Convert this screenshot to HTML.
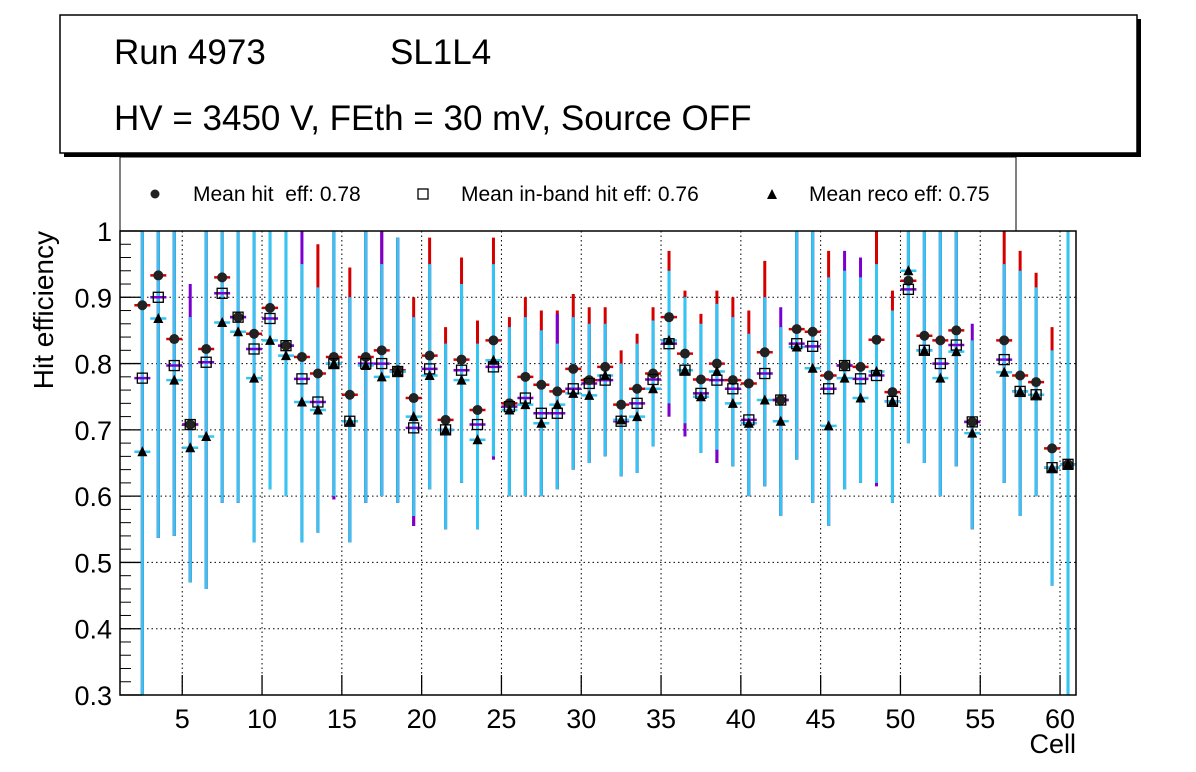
<!DOCTYPE html>
<html><head><meta charset="utf-8"><style>
body{margin:0;background:#fff;}
svg{display:block;font-family:"Liberation Sans",sans-serif;}
</style></head><body>
<svg id="chart" width="1196" height="772">
<rect x="64" y="19" width="1077" height="138" fill="#000"/>
<rect x="60" y="15" width="1077" height="138" fill="#fff" stroke="#000" stroke-width="1.5"/>
<text x="114" y="64" font-size="35">Run 4973</text>
<text x="390" y="64" font-size="35">SL1L4</text>
<text x="114" y="130" font-size="35">HV = 3450 V, FEth = 30 mV, Source OFF</text>
<rect x="120" y="157" width="896" height="74" fill="#fff" stroke="#000" stroke-width="1"/>
<g>
<circle cx="155" cy="194" r="4.5" fill="#222"/>
<text x="193" y="201" font-size="21" style="white-space:pre">Mean hit  eff: 0.78</text></g>
<g>
<rect x="418" y="189" width="10" height="10" fill="#fff" stroke="#000" stroke-width="1.3"/>
<text x="461" y="201" font-size="21">Mean in-band hit eff: 0.76</text></g>
<g>
<polygon points="772,189 767,199 777,199" fill="#000"/>
<text x="809" y="201" font-size="21">Mean reco eff: 0.75</text></g>
<g id="plot"></g>
<text x="1076" y="753" font-size="27" text-anchor="end">Cell</text>
<text transform="translate(53,231) rotate(-90)" font-size="28" text-anchor="end">Hit efficiency</text>
</svg>
<script>
const cells = [2,3,4,5,6,7,8,9,10,11,12,13,14,15,16,17,18,19,20,21,22,23,24,25,26,27,28,29,30,31,32,33,34,35,36,37,38,39,40,41,42,43,44,45,46,47,48,49,50,51,52,53,54,56,57,58,59,60];
const hitEff = [.888,.933,.837,.708,.822,.930,.870,.845,.884,.827,.810,.785,.810,.753,.810,.820,.790,.748,.812,.715,.806,.730,.835,.740,.780,.768,.758,.792,.775,.795,.738,.762,.785,.870,.815,.776,.800,.775,.770,.817,.745,.852,.848,.782,.797,.795,.836,.757,.925,.842,.835,.850,.712,.835,.782,.772,.672,.648];
const inbandEff = [.778,.900,.797,.708,.802,.906,.870,.822,.868,.827,.777,.742,.800,.713,.800,.800,.788,.703,.792,.700,.790,.708,.795,.735,.748,.725,.725,.762,.770,.775,.713,.740,.776,.830,.790,.755,.775,.762,.715,.785,.745,.830,.826,.762,.797,.777,.782,.743,.912,.820,.800,.828,.712,.806,.758,.753,.643,.648];
const recoEff = [.667,.868,.775,.673,.690,.862,.848,.778,.835,.812,.742,.730,.800,.713,.797,.780,.788,.720,.782,.700,.775,.685,.805,.730,.738,.710,.738,.755,.752,.782,.715,.720,.762,.835,.790,.750,.788,.740,.710,.745,.713,.825,.793,.706,.778,.748,.788,.743,.940,.820,.778,.818,.695,.787,.758,.753,.643,.648];
const recoLo = [.30,.537,.54,.47,.46,.59,.59,.53,.61,.60,.53,.545,.60,.53,.59,.60,.59,.57,.61,.55,.62,.55,.66,.60,.60,.60,.61,.64,.65,.66,.63,.635,.675,.74,.71,.665,.67,.645,.60,.615,.57,.655,.59,.555,.61,.62,.62,.59,.68,.65,.60,.645,.55,.62,.57,.60,.465,.30];
const recoHi = [1,1,1,.87,1,1,1,1,1,1,.95,.915,1,.90,1,.95,.99,.87,.95,.83,.92,.83,.95,.855,.87,.85,.83,.87,.86,.86,.80,.83,.865,.94,.90,.86,.89,.87,.845,.90,.855,1,1,.93,.94,.93,.95,.88,1,1,1,1,.835,.95,.94,.915,.82,1];
const hitHi = [1,1,1,.87,1,1,1,1,1,1,.95,.98,1,.945,1,1,.99,.90,.99,.855,.96,.865,.99,.87,.90,.88,.88,.905,.885,.885,.82,.845,.885,.97,.91,.875,.91,.90,.88,.955,.855,1,1,.97,.94,.93,1,.91,1,1,1,1,.835,1,.97,.937,.855,1];
const inbandHi = [1,1,1,.92,1,1,1,1,1,1,1,.915,1,.90,1,1,.99,.87,.95,.83,.92,.83,.95,.855,.87,.85,.875,.87,.86,.86,.80,.83,.865,.94,.90,.86,.89,.87,.845,.90,.885,1,1,.93,.97,.96,.95,.88,1,1,1,1,.86,.95,.94,.915,.82,1];
const inbandLo = [.30,.537,.54,.47,.46,.59,.59,.53,.61,.60,.53,.545,.595,.53,.59,.60,.59,.555,.61,.55,.62,.55,.655,.60,.60,.60,.61,.64,.65,.66,.63,.635,.675,.72,.69,.665,.65,.645,.60,.615,.57,.655,.59,.555,.61,.62,.615,.59,.68,.65,.60,.645,.55,.62,.57,.60,.465,.30];
const yTicks = [0.3,0.4,0.5,0.6,0.7,0.8,0.9,1];
const yTickLabels = ["0.3","0.4","0.5","0.6","0.7","0.8","0.9","1"];
const xTicks = [5,10,15,20,25,30,35,40,45,50,55,60];

const NS="http://www.w3.org/2000/svg";
const L=120,R=1076,T=231,B=695;
const X0=1.1,X1=61.0;
function xs(c){return L+(c-X0)/(X1-X0)*(R-L);}
function ys(v){return B-(v-0.3)/(0.7)*(B-T);}
const g=document.getElementById('plot');
function mk(tag,attrs,parent){const e=document.createElementNS(NS,tag);for(const k in attrs)e.setAttribute(k,attrs[k]);(parent||g).appendChild(e);return e;}
const cl=v=>Math.max(0.3,Math.min(1,v));

const grid=mk('g',{});


yTicks.forEach((t,i)=>{
  if(t>0.3&&t<1){mk('line',{x1:L,x2:R,y1:ys(t),y2:ys(t),stroke:'#000','stroke-dasharray':'1.5,3','stroke-width':1},grid);}
  const tk=mk('line',{x1:L,x2:L+22,y1:ys(t),y2:ys(t),stroke:'#000','stroke-width':1.3},grid);
  
  
  const lb=mk('text',{x:L-8,y:ys(t)+10,'font-size':27,'text-anchor':'end'},grid);
  lb.textContent=yTickLabels[i];
  
  
});
for(let v=0.3;v<1;v+=0.02){mk('line',{x1:L,x2:L+11,y1:ys(v),y2:ys(v),stroke:'#000','stroke-width':1},grid);}
xTicks.forEach(t=>{
  mk('line',{x1:xs(t),x2:xs(t),y1:T,y2:B,stroke:'#000','stroke-dasharray':'1.5,3','stroke-width':1},grid);
  const tk=mk('line',{x1:xs(t),x2:xs(t),y1:B,y2:B-20,stroke:'#000','stroke-width':1.3},grid);
  
  
  const lb=mk('text',{x:xs(t),y:B+33,'font-size':27,'text-anchor':'middle'},grid);
  lb.textContent=String(t);
  
  
});

cells.forEach((c,i)=>{
  const x=xs(c+0.5);
  const grp=mk('g',{});
  
  
  mk('line',{x1:x,x2:x,y1:ys(cl(Math.min(recoLo[i],inbandLo[i]))),y2:ys(cl(hitHi[i])),stroke:'#d40000','stroke-width':3},grp);
  mk('line',{x1:x,x2:x,y1:ys(cl(inbandLo[i])),y2:ys(cl(inbandHi[i])),stroke:'#7a00d0','stroke-width':3},grp);
  mk('line',{x1:x,x2:x,y1:ys(cl(recoLo[i])),y2:ys(cl(recoHi[i])),stroke:'#33c6f2','stroke-width':3},grp);
  mk('line',{x1:x-8,x2:x+8,y1:ys(hitEff[i]),y2:ys(hitEff[i]),stroke:'#d40000','stroke-width':2.5},grp);
  mk('line',{x1:x-8,x2:x+8,y1:ys(inbandEff[i]),y2:ys(inbandEff[i]),stroke:'#7a00d0','stroke-width':2.5},grp);
  mk('line',{x1:x-8,x2:x+8,y1:ys(recoEff[i]),y2:ys(recoEff[i]),stroke:'#33c6f2','stroke-width':2.5},grp);
  const p=mk('circle',{cx:x,cy:ys(hitEff[i]),r:5,fill:'#222'},grp);
  
  
  const yq=ys(inbandEff[i]);
  const s=mk('rect',{x:x-5,y:yq-5,width:10,height:10,fill:'none',stroke:'#000','stroke-width':1.3},grp);
  
  
  const yt=ys(recoEff[i]);
  const tr=mk('polygon',{points:`${x},${yt-5.5} ${x-5},${yt+4.5} ${x+5},${yt+4.5}`,fill:'#000'},grp);
  
  
});
const fr=mk('rect',{x:L,y:T,width:R-L,height:B-T,fill:'none',stroke:'#000','stroke-width':1.5});


</script>
</body></html>
